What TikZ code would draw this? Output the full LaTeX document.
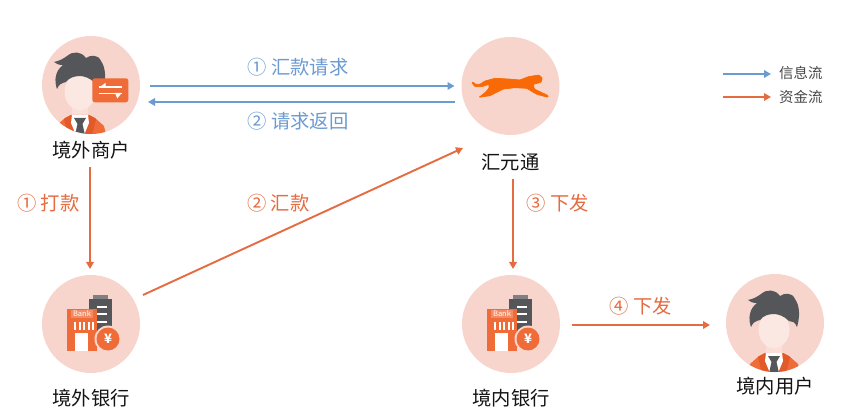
\documentclass[tikz,border=0pt]{standalone}
\usepackage{fontspec}
\setmainfont{Noto Sans CJK SC}
\usetikzlibrary{arrows.meta,calc}
\definecolor{infoblue}{HTML}{6C9BD2}
\definecolor{fundorange}{HTML}{E56B40}
\definecolor{discpink}{HTML}{F8D5CC}
\definecolor{facepink}{HTML}{FBE8E3}
\definecolor{hairgray}{HTML}{54565A}
\definecolor{iconorange}{HTML}{EF6B38}
\definecolor{lapelorange}{HTML}{E2592A}
\definecolor{catorange}{HTML}{F96A06}
\tikzset{
  disc/.style={circle,fill=discpink,minimum size=98pt,inner sep=0pt,outer sep=0pt},
  caption/.style={font=\fontsize{19.3}{21}\selectfont,text=black!92,inner sep=0pt},
  bluelabel/.style={font=\fontsize{19.3}{21}\selectfont,text=infoblue,inner sep=0pt},
  orangelabel/.style={font=\fontsize{19.3}{21}\selectfont,text=fundorange,inner sep=0pt},
  legendlabel/.style={font=\fontsize{14.4}{16}\selectfont,text=black!72,inner sep=0pt,anchor=west},
  infoarrow/.style={draw=infoblue,line width=1.9pt,-{Triangle[length=7pt,width=7.5pt]}},
  fundarrow/.style={draw=fundorange,line width=1.9pt,-{Triangle[length=7pt,width=7.5pt]}}
}
% #1 disc centre x, #2 disc centre y, #3 head axis offset from disc centre
\newcommand{\personicon}[3]{%
  \begin{scope}
    \clip (#1,#2) circle (49);
    \begin{scope}[shift={(#1+#3,#2)}]
      \fill[facepink!55!discpink] (-8,18) rectangle (8,34);
      \fill[iconorange] (-26,50) -- (-24,41) -- (-15,33) -- (-9,30) -- (9,30) -- (15,33) -- (24,41) -- (26,50) -- cycle;
      \fill[lapelorange] (-16,34) -- (-9,30) -- (-3,50) -- (-12,50) -- cycle;
      \fill[lapelorange] (16,34) -- (9,30) -- (3,50) -- (12,50) -- cycle;
      \fill[white] (-8,30) -- (8,30) -- (9,38) -- (4,50) -- (-4,50) -- (-9,38) -- cycle;
      \fill[hairgray] (-6,33) -- (6,33) -- (2.5,39) -- (5,50) -- (-5,50) -- (-2.5,39) -- cycle;
      \fill[facepink] (0,7) ellipse (15.5 and 18);
      \fill[hairgray] (-23,4) .. controls (-26,-4) and (-25,-14) .. (-17,-20)
        .. controls (-21,-20) and (-24,-21) .. (-26,-23)
        .. controls (-21,-24) and (-17,-26) .. (-13,-29)
        .. controls (-7,-34) and (1,-34) .. (6,-27)
        .. controls (10,-30) and (18,-31) .. (21,-24)
        .. controls (26,-17) and (26,-6) .. (23,4)
        .. controls (21,-1) and (18,-2) .. (15,-2)
        .. controls (10,-7) and (4,-9) .. (0,-9)
        .. controls (-6,-9) and (-11,-7) .. (-14,-3)
        .. controls (-18,-2) and (-21,-1) .. (-23,4) -- cycle;
    \end{scope}
  \end{scope}}
% #1 disc centre x, #2 disc centre y
\newcommand{\bankicon}[2]{%
  \begin{scope}[shift={(#1,#2)}]
    \fill[hairgray!75] (2,-29) rectangle (17,-24);
    \fill[hairgray] (-2,-25) rectangle (21,23);
    \foreach \yy in {-18,-11,-3} {\fill[white] (6,\yy) rectangle (16,\yy+2);}
    \fill[iconorange] (-24,-15) rectangle (6,27);
    \fill[white!22!iconorange] (-20,-14) rectangle (2,-6);
    \node[font=\fontsize{7.5}{8}\selectfont,text=white,inner sep=0pt] (bankword#1) at (-9,-10) {Bank};
    \foreach \xx in {-17,-12.5,-8,-3.5,1} {\fill[white] (\xx,-2) rectangle (\xx+2,6);}
    \fill[white] (-16,9) rectangle (-3,27);
    \fill[discpink] (17,15) circle (13.5);
    \fill[iconorange] (17,15) circle (11.5);
    \node[font=\fontsize{13}{14}\selectfont\bfseries,text=white,inner sep=0pt] (yen#1) at (17,15) {¥};
  \end{scope}}
\begin{document}
\begin{tikzpicture}[x=1pt,y=-1pt]
\useasboundingbox (0,0) rectangle (864,419);
\fill[white] (0,0) rectangle (864,419);

% discs
\node[disc] (merchant) at (91,85) {};
\node[disc] (hyt) at (510.5,86) {};
\node[disc] (bankA) at (91,324) {};
\node[disc] (bankB) at (511,324) {};
\node[disc] (user) at (775,323) {};

% merchant icon
\personicon{91}{85}{-11}
\fill[iconorange,rounded corners=2.5pt] (92.3,78.3) rectangle (128.3,102.3);
\draw[white,line width=1.9pt] (99.3,87) -- (121.7,87);
\fill[white] (99.3,87.5) -- (105.7,82.7) -- (105.7,87.5) -- cycle;
\draw[white,line width=1.9pt] (99.3,93.5) -- (121.7,93.5);
\fill[white] (121.7,93) -- (115,93) -- (117.3,98.5) -- cycle;

% user icon
\personicon{775}{323}{-1}

% bank icons
\bankicon{91}{324}
\bankicon{511}{324}

% cheetah
\filldraw[catorange,line width=0.7pt,rounded corners=0.8pt] (472.3,81.7) -- (475.7,84.3) -- (480,84.3) -- (485,81) -- (495,78.3)
  -- (508.3,79) -- (520,80) -- (528.3,76.7) -- (539,75) -- (542.3,78.3) -- (541,82.3) -- (533.3,84.3)
  -- (534.3,89) -- (548.3,95.7) -- (547.7,97.3) -- (536.7,94.3) -- (526.7,88.3) -- (515,87.7)
  -- (503.3,89) -- (490,95.7) -- (479,97.3) -- (485,92.7) -- (489,88.3) -- (489,84.3)
  -- (481.7,86.7) -- (475,86.7) -- (472.3,83.3) -- cycle;

% captions
\node[caption] (merchantcap) at (91,150) {境外商户};
\node[caption] (hytcap) at (510.5,162) {汇元通};
\node[caption] (bankAcap) at (91,398) {境外银行};
\node[caption] (bankBcap) at (511,398) {境内银行};
\node[caption] (usercap) at (775,386) {境内用户};

% connectors
\draw[infoarrow] ([shift={(10,1)}]merchant.east) -- ([shift={(-7,0)}]hyt.west);
\draw[infoarrow] ([shift={(-7,16)}]hyt.west) -- ([shift={(8,17)}]merchant.east);
\draw[fundarrow] ([shift={(-1,8)}]merchantcap.south) -- ([shift={(-1,-6)}]bankA.north);
\draw[fundarrow] ([shift={(3,-29)}]bankA.east) -- ([shift={(1.5,62)}]hyt.west);
\draw[fundarrow] ([shift={(2.5,8)}]hytcap.south) -- ([shift={(2,-6)}]bankB.north);
\draw[fundarrow] ([shift={(12,1)}]bankB.east) -- ([shift={(-16,2)}]user.west);

% flow labels
\node[bluelabel] (l1) at (298,67) {① 汇款请求};
\node[bluelabel] (l2) at (298,121) {② 请求返回};
\node[orangelabel] (l3) at (48.5,203) {① 打款};
\node[orangelabel] (l4) at (278.5,203) {② 汇款};
\node[orangelabel] (l5) at (557.5,203) {③ 下发};
\node[orangelabel] (l6) at (640.5,306) {④ 下发};

% legend
\coordinate (legAstart) at (723,74);
\coordinate (legAend) at (771,74);
\coordinate (legBstart) at (723,97);
\coordinate (legBend) at (771,97);
\draw[infoarrow] (legAstart) -- (legAend);
\draw[fundarrow] (legBstart) -- (legBend);
\node[legendlabel] (legA) at (779,73) {信息流};
\node[legendlabel] (legB) at (779,97) {资金流};
\end{tikzpicture}
\end{document}
